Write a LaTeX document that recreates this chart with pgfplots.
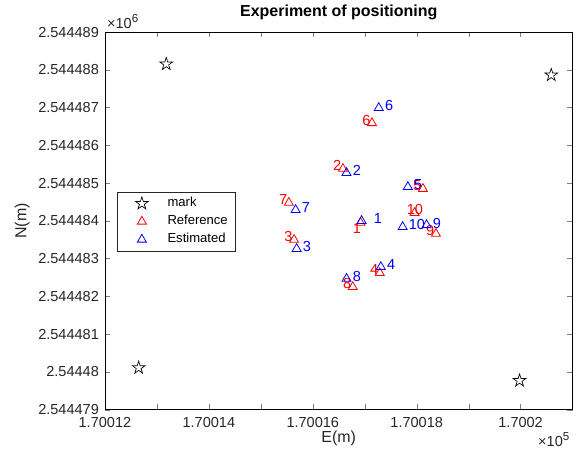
\documentclass[border=0pt]{standalone}
\usepackage{fontspec}
\setmainfont{Liberation Sans}
\usepackage{pgfplots}
\pgfplotsset{compat=1.18}
\usetikzlibrary{plotmarks}

% MATLAB-like markers
\pgfdeclareplotmark{pent}{%
  \pgfpathmoveto{\pgfqpointpolar{90}{\pgfplotmarksize}}%
  \pgfpathlineto{\pgfqpointpolar{126}{0.382\pgfplotmarksize}}%
  \pgfpathlineto{\pgfqpointpolar{162}{\pgfplotmarksize}}%
  \pgfpathlineto{\pgfqpointpolar{198}{0.382\pgfplotmarksize}}%
  \pgfpathlineto{\pgfqpointpolar{234}{\pgfplotmarksize}}%
  \pgfpathlineto{\pgfqpointpolar{270}{0.382\pgfplotmarksize}}%
  \pgfpathlineto{\pgfqpointpolar{306}{\pgfplotmarksize}}%
  \pgfpathlineto{\pgfqpointpolar{342}{0.382\pgfplotmarksize}}%
  \pgfpathlineto{\pgfqpointpolar{18}{\pgfplotmarksize}}%
  \pgfpathlineto{\pgfqpointpolar{54}{0.382\pgfplotmarksize}}%
  \pgfpathclose\pgfusepathqstroke}
\pgfdeclareplotmark{tri}{%
  \pgfpathmoveto{\pgfqpointpolar{90}{\pgfplotmarksize}}%
  \pgfpathlineto{\pgfqpointpolar{210}{\pgfplotmarksize}}%
  \pgfpathlineto{\pgfqpointpolar{330}{\pgfplotmarksize}}%
  \pgfpathclose\pgfusepathqstroke}

\definecolor{axgray}{gray}{0.15}
\newcommand\tickfont{\fontsize{10.9}{13}\selectfont}
% point labels: x, y, text, xshift, yshift
\newcommand\rl[5]{\node[red,anchor=west,inner sep=0pt,font=\tickfont,xshift=#4,yshift=#5] at (axis cs:#1,#2) {#3};}
\newcommand\bl[5]{\node[blue,anchor=west,inner sep=0pt,font=\tickfont,xshift=#4,yshift=#5] at (axis cs:#1,#2) {#3};}

\begin{document}
\begin{tikzpicture}
% E - 170000 (m), N - 2544479 (m)
\begin{axis}[scale only axis,width=351pt,height=283.5pt,
xmin=12,xmax=21,ymin=0,ymax=10,clip=false,
xtick={12,13,14,15,16,17,18,19,20,21},xticklabels={1.70012,,1.70014,,1.70016,,1.70018,,1.7002,},
ytick={0,1,2,3,4,5,6,7,8,9,10},
yticklabels={2.544479,2.54448,2.544481,2.544482,2.544483,2.544484,2.544485,2.544486,2.544487,2.544488,2.544489},
major tick length=4pt,
ticklabel style={font=\tickfont,text=axgray},
xticklabel style={yshift=-2pt},yticklabel style={xshift=-1pt},
title={Experiment of positioning},
title style={font=\bfseries\fontsize{12}{14}\selectfont,anchor=base,at={(0.5,1)},yshift=6pt},
xlabel={E(m)},ylabel={N(m)},
label style={font=\fontsize{12}{14}\selectfont,text=axgray},
xlabel style={at={(0.5,0)},anchor=base,yshift=-24.75pt},
ylabel style={at={(0,0.5)},anchor=center,yshift=62pt},
legend style={at={(0.0256,0.5767)},anchor=north west,draw=axgray,line width=0.5pt,
  font=\fontsize{9.8}{11}\selectfont,inner xsep=4.5pt,inner ysep=3pt,row sep=2.5pt,column sep=3.75pt,
  nodes={inner sep=1pt,text height=7pt,text depth=2pt}},
legend cell align=left,
legend image code/.code={\path[draw=none] (0pt,0pt) -- (28.5pt,0pt);
  \draw[#1,only marks] plot coordinates {(14pt,0pt)};},
]
\addplot[only marks,mark=pent,mark size=5pt,black,line width=0.5pt] coordinates {
(13.18,9.15) (20.59,8.86) (12.65,1.11) (19.98,0.77)};
\addlegendentry{mark}
\addplot[only marks,mark=tri,mark size=3.9pt,red,line width=0.6pt] coordinates {
(16.92,4.95) (16.58,6.38) (15.64,4.50) (17.29,3.62) (18.12,5.85)
(17.14,7.59) (15.54,5.48) (16.77,3.25) (18.37,4.66) (17.96,5.21)};
\addlegendentry{Reference}
\addplot[only marks,mark=tri,mark size=3.9pt,blue,line width=0.6pt] coordinates {
(16.94,5.00) (16.65,6.27) (15.69,4.26) (17.31,3.78) (17.83,5.90)
(17.27,7.99) (15.67,5.29) (16.65,3.47) (18.19,4.89) (17.73,4.84)};
\addlegendentry{Estimated}
\rl{16.92}{4.95}{1}{-6pt}{-4.5pt}
\rl{16.58}{6.38}{2}{-7.5pt}{2.25pt}
\rl{15.64}{4.50}{3}{-7.5pt}{2.25pt}
\rl{17.29}{3.62}{4}{-7.5pt}{2.25pt}
\rl{18.12}{5.85}{5}{-7.5pt}{2.25pt}
\rl{17.14}{7.59}{6}{-7.5pt}{2.25pt}
\rl{15.54}{5.48}{7}{-7.5pt}{2.25pt}
\rl{16.77}{3.25}{8}{-7.5pt}{2.25pt}
\rl{18.37}{4.66}{9}{-7.5pt}{2.25pt}
\rl{17.96}{5.21}{10}{-6pt}{2.25pt}
\bl{16.94}{5.00}{1}{9pt}{1.5pt}
\bl{16.65}{6.27}{2}{4.5pt}{1.5pt}
\bl{15.69}{4.26}{3}{4.5pt}{1.5pt}
\bl{17.31}{3.78}{4}{4.5pt}{1.5pt}
\bl{17.83}{5.90}{5}{4.5pt}{1.5pt}
\bl{17.27}{7.99}{6}{4.5pt}{1.5pt}
\bl{15.67}{5.29}{7}{4.5pt}{1.5pt}
\bl{16.65}{3.47}{8}{4.5pt}{1.5pt}
\bl{18.19}{4.89}{9}{4.5pt}{1.5pt}
\bl{17.73}{4.84}{10}{4.5pt}{1.5pt}
\node[anchor=base west,inner sep=0pt,font=\tickfont,text=axgray,xshift=1.5pt,yshift=2.5pt]
  at (rel axis cs:0,1) {×10\raisebox{5pt}{\fontsize{8.7}{9}\selectfont 6}};
\node[anchor=base east,inner sep=0pt,font=\tickfont,text=axgray,xshift=-2.25pt,yshift=-27.75pt]
  at (rel axis cs:1,0) {×10\raisebox{5pt}{\fontsize{8.7}{9}\selectfont 5}};
\end{axis}
\path (current axis.south west) ++(-78.75pt,-36pt) rectangle ([shift={(3pt,22.5pt)}]current axis.north east);
\end{tikzpicture}
\end{document}
